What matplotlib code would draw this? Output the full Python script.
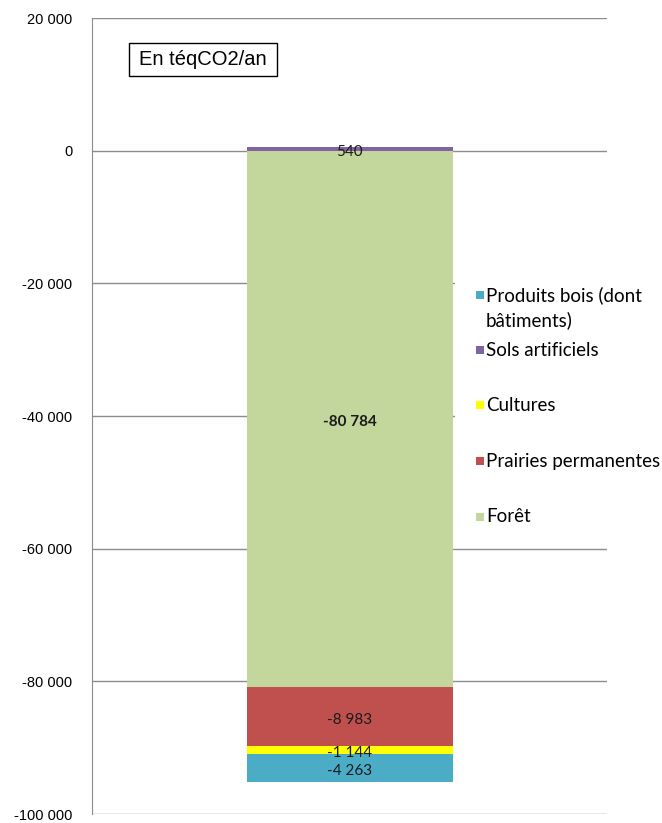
import matplotlib
matplotlib.use('Agg')
from matplotlib import pyplot as plt
from matplotlib.patches import Rectangle

# Stacked segments (bottom-up order as in the legend, reversed)
categories = ['Forêt', 'Prairies permanentes', 'Cultures', 'Sols artificiels',
              'Produits bois (dont\nbâtiments)']
values = [-80784, -8983, -1144, 540, -4263]
colors = ['#c3d69b', '#c0504d', '#ffff00', '#8064a2', '#4bacc6']
label_bold = [True, False, False, False, False]

y_ticks = [20000, 0, -20000, -40000, -60000, -80000, -100000]

W, H = 662, 823
AX_L, AX_R, AX_T, AX_B = 92, 607, 18, 814


def fmt(v):
    return f"{v:,}".replace(',', ' ')


def ax_x(px):
    return (px - AX_L) / (AX_R - AX_L)


def ax_y(py):
    return (AX_B - py) / (AX_B - AX_T)


def main():
    fig = plt.figure(figsize=(W / 100, H / 100), dpi=100)
    ax = fig.add_axes([AX_L / W, 1 - AX_B / H, (AX_R - AX_L) / W, (AX_B - AX_T) / H])

    neg_bottom = 0
    pos_bottom = 0
    for cat, v, c, b in zip(categories, values, colors, label_bold):
        if v < 0:
            base = neg_bottom
            neg_bottom += v
        else:
            base = pos_bottom
            pos_bottom += v
        ax.bar(0, v, bottom=base, width=0.8, color=c, zorder=2)
        ax.annotate(fmt(v), xy=(0, base + v / 2), xytext=(0, -2.5), textcoords='offset points',
                    ha='center', va='center', fontsize=11, family='Lato', color='#1a1a1a',
                    fontweight='bold' if b else 'normal', zorder=3)

    ax.set_xlim(-1, 1)
    ax.set_ylim(-100000, 20000)
    ax.set_yticks(y_ticks)
    ax.set_yticklabels([fmt(t) for t in y_ticks], family='Liberation Sans', fontsize=10.5)
    ax.tick_params(axis='y', length=0, pad=14)
    ax.set_xticks([])
    ax.grid(axis='y', color='#8c8c8c', lw=1, zorder=0)
    for s in ['top', 'right', 'bottom']:
        ax.spines[s].set_visible(False)
    ax.spines['left'].set_color('#8c8c8c')

    # Legend drawn by hand (Excel-like spacing), reversed order
    ax.add_patch(Rectangle((ax_x(455), ax_y(535)), ax_x(700) - ax_x(455), ax_y(280) - ax_y(535),
                           transform=ax.transAxes, facecolor='white', edgecolor='none',
                           zorder=4, clip_on=False))
    order = [4, 3, 2, 1, 0]
    legend_y = [295, 350, 405, 461, 517]
    for i, py in zip(order, legend_y):
        ax.add_patch(Rectangle((ax_x(476), ax_y(py + 4)), ax_x(484) - ax_x(476), ax_y(py - 4) - ax_y(py + 4),
                               transform=ax.transAxes, facecolor=colors[i], edgecolor='none',
                               zorder=5, clip_on=False))
        for k, line in enumerate(categories[i].split('\n')):
            ax.text(ax_x(486), ax_y(py + 25 * k), line, transform=ax.transAxes,
                    ha='left', va='center', fontsize=13.5, family='Lato',
                    zorder=6, clip_on=False)

    # Unit box
    fig.patches.append(Rectangle((129 / W, 1 - 76 / H), 148 / W, 33 / H, transform=fig.transFigure,
                                 facecolor='white', edgecolor='black', lw=1))
    fig.text(139 / W, 1 - 59.5 / H, 'En téqCO2/an', family='Liberation Sans', fontsize=14.5,
             va='center', ha='left')

    fig.savefig('out.png', dpi=100)


if __name__ == "__main__":
    main()
